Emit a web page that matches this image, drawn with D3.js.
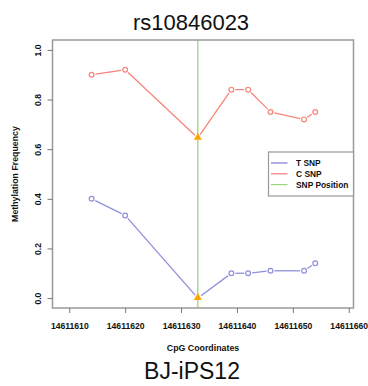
<!DOCTYPE html>
<html>
<head>
<meta charset="utf-8">
<script src="https://cdn.jsdelivr.net/npm/d3@7"></script>
<style>
  body { margin: 0; background: #fff; }
  text { font-family: "Liberation Sans", Arial, sans-serif; fill: #111; }
</style>
</head>
<body>
<div id="chart"></div>
<script>
// CpG positions and methylation frequencies
const positions = [14611614, 14611620, 14611633, 14611639, 14611642, 14611646, 14611652, 14611654];
const tSnp = [0.40, 0.333, 0.0, 0.10, 0.10, 0.11, 0.11, 0.14];
const cSnp = [0.90, 0.92, 0.645, 0.84, 0.84, 0.75, 0.72, 0.75];
const snpPosition = 14611633;
const xTicks = [14611610, 14611620, 14611630, 14611640, 14611650, 14611660];
const yTicks = [0, 0.2, 0.4, 0.6, 0.8, 1.0];
const legendLabels = ["T SNP", "C SNP", "SNP Position"];

const width = 368;
const height = 386;
const plotLeft = 52.5, plotRight = 353.5, plotTop = 40, plotBottom = 308;

const colBlue = "#8f8fdb", colRed = "#f6857b", colGreen = "#9dd27d", colOrange = "#ffa500";

const svg = d3.select("#chart").append("svg")
    .attr("width", width)
    .attr("height", height);

const x = d3.scaleLinear()
    .domain([14611607, 14611660.85])
    .range([plotLeft, plotRight]);

const y = d3.scaleLinear()
    .domain([-0.04, 1.04])
    .range([plotBottom, plotTop]);

// SNP position line
svg.append("line")
    .attr("x1", x(snpPosition)).attr("x2", x(snpPosition))
    .attr("y1", plotTop).attr("y2", plotBottom)
    .attr("stroke", colGreen).attr("stroke-width", 1.3);

// type "b" style: segments with a gap round each point
function drawSeries(values, color) {
    const pts = positions.map((p, i) => [x(p), y(values[i])]);
    const gap = 4;
    for (let i = 0; i < pts.length - 1; i++) {
        const [x0, y0] = pts[i];
        const [x1, y1] = pts[i + 1];
        const len = Math.hypot(x1 - x0, y1 - y0);
        if (len <= gap * 2) continue;
        const ux = (x1 - x0) / len, uy = (y1 - y0) / len;
        svg.append("line")
            .attr("x1", x0 + ux * gap).attr("y1", y0 + uy * gap)
            .attr("x2", x1 - ux * gap).attr("y2", y1 - uy * gap)
            .attr("stroke", color).attr("stroke-width", 1.3);
    }
    svg.append("g").selectAll("circle")
        .data(positions.filter(p => p !== snpPosition))
        .enter()
        .append("circle")
        .attr("cx", d => x(d))
        .attr("cy", d => y(values[positions.indexOf(d)]))
        .attr("r", 2.4)
        .attr("fill", "none")
        .attr("stroke", color)
        .attr("stroke-width", 1.2);
}
drawSeries(cSnp, colRed);
drawSeries(tSnp, colBlue);

// orange triangles at the SNP
const si = positions.indexOf(snpPosition);
svg.append("g").selectAll("path")
    .data([tSnp[si], cSnp[si]])
    .enter()
    .append("path")
    .attr("d", d3.symbol().type(d3.symbolTriangle).size(28))
    .attr("transform", d => `translate(${x(snpPosition)},${y(d) - 0.5})`)
    .attr("fill", colOrange);

// box
svg.append("rect")
    .attr("x", plotLeft).attr("y", plotTop)
    .attr("width", plotRight - plotLeft).attr("height", plotBottom - plotTop)
    .attr("fill", "none").attr("stroke", "#999").attr("stroke-width", 1.5);

// x axis
const gx = svg.append("g")
    .attr("transform", `translate(0,${plotBottom})`)
    .call(d3.axisBottom(x).tickValues(xTicks).tickFormat(d3.format("d")).tickSize(5).tickPadding(10));
gx.select(".domain").remove();
gx.selectAll("line").attr("stroke", "#777");
gx.selectAll("text")
    .attr("font-size", 8.6).attr("font-weight", "bold")
    .style("font-family", "Liberation Sans, Arial, sans-serif").attr("fill", "#111");

// y axis
const gy = svg.append("g")
    .attr("transform", `translate(${plotLeft},0)`)
    .call(d3.axisLeft(y).tickValues(yTicks).tickFormat(d3.format(".1f")).tickSize(5).tickPadding(3));
gy.select(".domain").remove();
gy.selectAll("line").attr("stroke", "#777");
gy.selectAll("text")
    .attr("font-size", 8.6).attr("font-weight", "bold")
    .style("font-family", "Liberation Sans, Arial, sans-serif").attr("fill", "#111")
    .attr("x", 0).attr("dy", 0)
    .attr("text-anchor", "middle")
    .attr("transform", "translate(-12,0) rotate(-90)");

// titles
svg.append("text")
    .attr("x", 191).attr("y", 30)
    .attr("text-anchor", "middle")
    .attr("font-size", 22)
    .text("rs10846023");

svg.append("text")
    .attr("x", 203).attr("y", 351)
    .attr("text-anchor", "middle")
    .attr("font-size", 8.8).attr("font-weight", "bold")
    .text("CpG Coordinates");

svg.append("text")
    .attr("transform", `translate(18,${(plotTop + plotBottom) / 2}) rotate(-90)`)
    .attr("text-anchor", "middle")
    .attr("font-size", 8.8).attr("font-weight", "bold")
    .text("Methylation Frequency");

svg.append("text")
    .attr("x", 192).attr("y", 379)
    .attr("text-anchor", "middle")
    .attr("font-size", 23)
    .text("BJ-iPS12");

// legend
const legend = svg.append("g");
legend.append("rect")
    .attr("x", 268.5).attr("y", 152)
    .attr("width", plotRight - 268.5).attr("height", 44)
    .attr("fill", "#fff").attr("stroke", "#999").attr("stroke-width", 1.2);
const legendColors = ["#7b7bd0", "#ff7a7a", "#9dd27d"];
legendLabels.forEach((label, i) => {
    const ly = 163 + i * 10.8;
    legend.append("line")
        .attr("x1", 271).attr("x2", 287.5)
        .attr("y1", ly).attr("y2", ly)
        .attr("stroke", legendColors[i]).attr("stroke-width", 1.2);
    legend.append("text")
        .attr("x", 296).attr("y", ly + 3)
        .attr("font-size", 8.4).attr("font-weight", "bold")
        .text(label);
});
</script>
</body>
</html>
